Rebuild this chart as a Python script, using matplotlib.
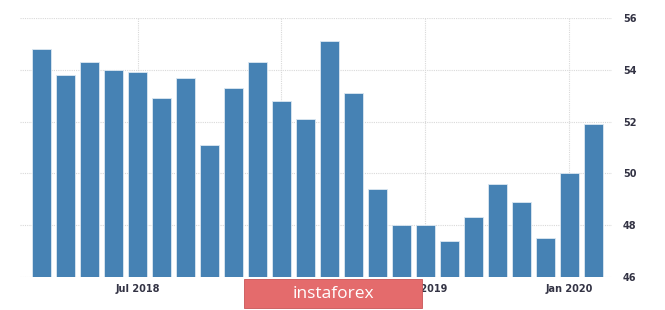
import matplotlib
matplotlib.use("Agg")
import matplotlib.pyplot as plt
from matplotlib.patches import Rectangle

# monthly values, Mar 2018 .. Feb 2020
months = ["Mar 2018", "Apr 2018", "May 2018", "Jun 2018", "Jul 2018", "Aug 2018",
          "Sep 2018", "Oct 2018", "Nov 2018", "Dec 2018", "Jan 2019", "Feb 2019",
          "Mar 2019", "Apr 2019", "May 2019", "Jun 2019", "Jul 2019", "Aug 2019",
          "Sep 2019", "Oct 2019", "Nov 2019", "Dec 2019", "Jan 2020", "Feb 2020"]
values = [54.8, 53.8, 54.3, 54.0, 53.9, 52.9, 53.7, 51.1, 53.3, 54.3, 52.8, 52.1,
          55.1, 53.1, 49.4, 48.0, 48.0, 47.4, 48.3, 49.6, 48.9, 47.5, 50.0, 51.9]
tick_months = ["Jul 2018", "Jan 2019", "Jul 2019", "Jan 2020"]
y_ticks = [46, 48, 50, 52, 54, 56]

fig = plt.figure(figsize=(6.65, 3.1), dpi=100)
ax = fig.add_axes([0.030, 0.1065, 0.890, 0.8355])

x = list(range(len(months)))
ax.bar(x, [v - 46 for v in values], bottom=46, width=0.78,
       color="#4682b4", edgecolor="#dce8f2", linewidth=0.6, zorder=3)

ax.set_xlim(-0.9, 23.77)
ax.set_ylim(46, 56)
ax.set_yticks(y_ticks)
ax.yaxis.tick_right()
ax.set_xticks([months.index(m) for m in tick_months])
ax.set_xticklabels(tick_months)
ax.tick_params(axis="both", length=0, labelsize=7, labelcolor="#333344")
ax.tick_params(axis="y", pad=8)
ax.tick_params(axis="x", pad=5)
for lbl in ax.get_xticklabels() + ax.get_yticklabels():
    lbl.set_fontweight("semibold")

ax.grid(True, color="#d9d9d9", linestyle=(0, (1, 1)), linewidth=0.8, zorder=0)
for s in ax.spines.values():
    s.set_visible(False)

# watermark
fig.patches.append(Rectangle((0.367, 0.0065), 0.268, 0.0935, transform=fig.transFigure,
                             facecolor="#e46b6c", edgecolor="#c95557", linewidth=0.6,
                             zorder=10, figure=fig))
fig.text(0.501, 0.053, "instaforex", color="white", fontsize=12.5, family="Open Sans",
         ha="center", va="center", zorder=11)

fig.savefig("out.png", dpi=100)
